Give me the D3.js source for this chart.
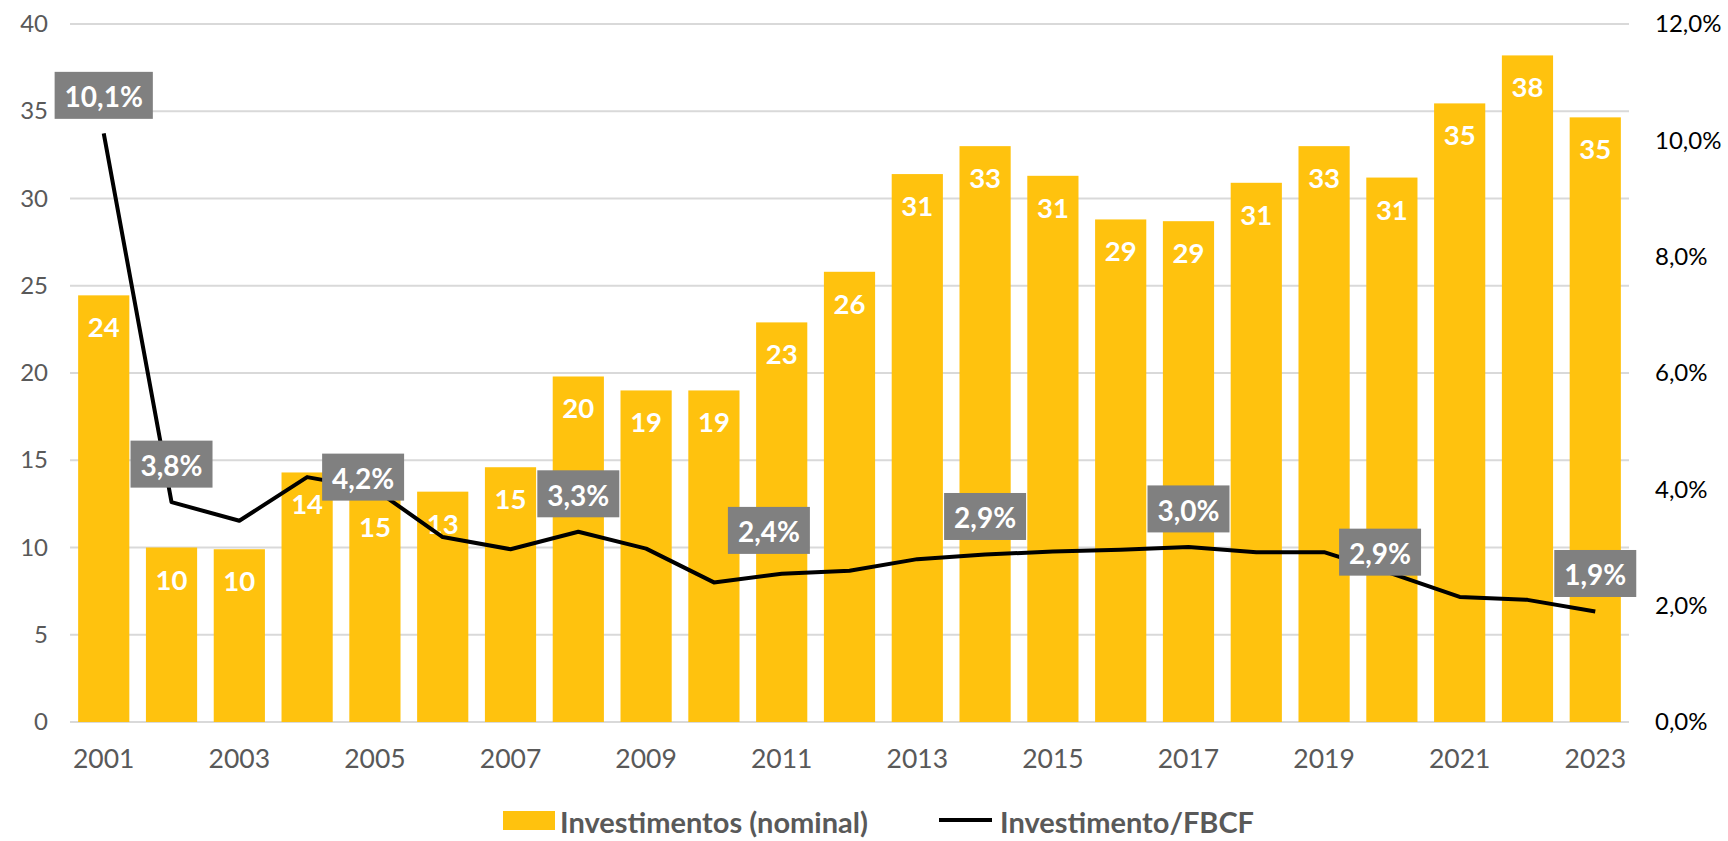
<!DOCTYPE html>
<html><head><meta charset="utf-8">
<script src="https://cdn.jsdelivr.net/npm/d3@7/dist/d3.min.js"></script>
<style>
html,body{margin:0;padding:0;background:#fff;}
svg{display:block;font-family:Lato, "Open Sans", sans-serif;}
</style></head>
<body>
<svg id="chart" width="1728" height="841"></svg>
<script>
const years = [2001,2002,2003,2004,2005,2006,2007,2008,2009,2010,2011,2012,2013,2014,2015,2016,2017,2018,2019,2020,2021,2022,2023];
const investimentos = [24.45,10.0,9.9,14.3,14.7,13.2,14.6,19.8,19.0,19.0,22.9,25.8,31.4,33.0,31.3,28.8,28.7,30.9,33.0,31.2,35.45,38.2,34.65];
const investFBCF = [10.12,3.78,3.46,4.21,4.0,3.18,2.97,3.27,2.98,2.4,2.55,2.6,2.8,2.88,2.93,2.96,3.01,2.92,2.92,2.55,2.15,2.1,1.9];
const leftTicks = [0,5,10,15,20,25,30,35,40];
const rightTicks = [0,2,4,6,8,10,12];
const xTickYears = [2001,2003,2005,2007,2009,2011,2013,2015,2017,2019,2021,2023];
const labeledYears = [2001,2002,2004,2008,2010,2014,2017,2019,2023];
const seriesNames = ["Investimentos (nominal)", "Investimento/FBCF"];

// placement of the grey label boxes (style / layout, not data)
const placement = {2001:"above",2002:"above",2004:"right",2008:"above",2010:"custom",2014:"above",2017:"above",2019:"right",2023:"above"};
const barLabelNudge = {2005:30};

const svg = d3.select("#chart");
const L = 70, R = 1629, T = 24, B = 722;

const x = d3.scaleBand().domain(years).range([L, R]).paddingInner(0.245).paddingOuter(0.12);
const yL = d3.scaleLinear().domain([0,40]).range([B, T]);
const yR = d3.scaleLinear().domain([0,12]).range([B, T]);

// gridlines
svg.append("g").selectAll("line").data(leftTicks).join("line")
  .attr("x1", L).attr("x2", R)
  .attr("y1", d => yL(d)).attr("y2", d => yL(d))
  .attr("stroke", "#D9D9D9").attr("stroke-width", 2);

// left axis
const axL = svg.append("g").attr("transform", `translate(${L},0)`)
  .call(d3.axisLeft(yL).tickValues(leftTicks).tickSize(0).tickPadding(22));
axL.select(".domain").remove();
axL.selectAll("text").attr("fill", "#595959").style("font-size", "24px").style("font-family", "Lato");

// right axis
const axR = svg.append("g").attr("transform", `translate(${R},0)`)
  .call(d3.axisRight(yR).tickValues(rightTicks).tickSize(0).tickPadding(26)
    .tickFormat(d => d.toFixed(1).replace(".", ",") + "%"));
axR.select(".domain").remove();
axR.selectAll("text").attr("fill", "#000").style("font-size", "24px").style("font-family", "Lato");

// bottom axis
const axB = svg.append("g").attr("transform", `translate(0,${B})`)
  .call(d3.axisBottom(x).tickValues(xTickYears).tickSize(0).tickPadding(27));
axB.select(".domain").remove();
axB.selectAll("text").attr("fill", "#595959").style("font-size", "26.5px").style("font-family", "Lato");

// bars
const data = years.map((y, i) => ({year: y, v: investimentos[i], p: investFBCF[i]}));
svg.append("g").selectAll("rect").data(data).join("rect")
  .attr("x", d => x(d.year)).attr("width", x.bandwidth())
  .attr("y", d => yL(d.v)).attr("height", d => yL(0) - yL(d.v))
  .attr("fill", "#FFC20E");

// bar labels
svg.append("g").selectAll("text").data(data).join("text")
  .attr("x", d => x(d.year) + x.bandwidth()/2)
  .attr("y", d => yL(d.v) + 42 + (barLabelNudge[d.year] || 0))
  .attr("text-anchor", "middle")
  .attr("fill", "#fff").style("font-weight", "bold").style("font-size", "27.5px")
  .text(d => String(Math.round(d.v)));

// line
const cx = d => x(d.year) + x.bandwidth()/2;
const line = d3.line().x(cx).y(d => yR(d.p));
svg.append("path").datum(data).attr("d", line)
  .attr("fill", "none").attr("stroke", "#000").attr("stroke-width", 4)
  .attr("stroke-linejoin", "round");

// line labels
const lg = svg.append("g");
labeledYears.forEach(yr => {
  const d = data.find(e => e.year === yr);
  const px = cx(d), py = yR(d.p);
  const txt = d.p.toFixed(1).replace(".", ",") + "%";
  const g = lg.append("g");
  const t = g.append("text").attr("text-anchor", "middle").attr("dominant-baseline", "central")
    .attr("fill", "#fff").style("font-weight", "bold").style("font-size", "28px").text(txt);
  const w = t.node().getComputedTextLength() + 20, h = 47;
  let bx, by;
  const mode = placement[yr];
  if (mode === "above") { bx = px; by = py - 14.5 - h/2; }
  else if (mode === "right") { bx = px + 15 + w/2; by = py; }
  else { bx = px + 14 + w/2; by = py - 52; }
  g.insert("rect", "text").attr("x", bx - w/2).attr("y", by - h/2).attr("width", w).attr("height", h).attr("fill", "#808080");
  t.attr("x", bx).attr("y", by + 1);
});

// legend
const leg = svg.append("g").attr("transform", "translate(0,820)");
leg.append("rect").attr("x", 503).attr("y", -9).attr("width", 52).attr("height", 19).attr("fill", "#FFC20E");
leg.append("text").attr("x", 560).attr("y", 1).attr("dominant-baseline", "central")
  .attr("fill", "#595959").style("font-weight", "bold").style("font-size", "29px").text(seriesNames[0]);
leg.append("line").attr("x1", 939).attr("x2", 992).attr("y1", 0).attr("y2", 0)
  .attr("stroke", "#000").attr("stroke-width", 4);
leg.append("text").attr("x", 1000).attr("y", 1).attr("dominant-baseline", "central")
  .attr("fill", "#595959").style("font-weight", "bold").style("font-size", "29px").text(seriesNames[1]);
</script>
</body></html>
